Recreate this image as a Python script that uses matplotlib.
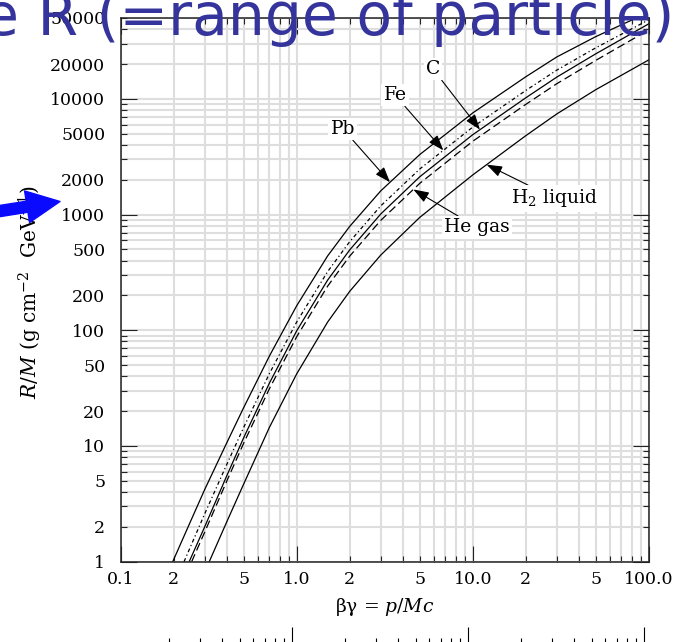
import matplotlib
matplotlib.use("Agg")
import matplotlib.pyplot as plt
import numpy as np
from matplotlib.ticker import FixedLocator, FixedFormatter, LogLocator, NullFormatter
from matplotlib.patches import FancyArrowPatch
from matplotlib.transforms import IdentityTransform

plt.rcParams['font.family'] = 'DejaVu Serif'
plt.rcParams['mathtext.fontset'] = 'dejavuserif'

# R/M (g cm^-2 GeV^-1) against beta*gamma for each absorber
bg_pb = [0.1975, 0.25, 0.3, 0.4, 0.5, 0.7, 1.0, 1.5, 2, 3, 5, 10, 20, 30, 50, 100]
rm_pb = [1.0, 2.25, 4.2, 10.6, 21.5, 60, 163, 440, 790, 1600, 3300, 7550, 15500, 23000, 34500, 56000]

bg_fe = [0.229, 0.3, 0.4, 0.5, 0.7, 1.0, 1.5, 2, 3, 5, 10, 20, 30, 50, 100]
rm_fe = [1.0, 2.59, 6.9, 14.5, 42.3, 118, 322, 583, 1187, 2475, 5700, 11800, 17700, 27600, 48200]

bg_c = [0.245, 0.3, 0.4, 0.5, 0.7, 1.0, 1.5, 2, 3, 5, 10, 20, 30, 50, 100]
rm_c = [1.0, 2.0, 5.5, 11.8, 35, 99, 272, 495, 1010, 2120, 4900, 10200, 15400, 24500, 44500]

bg_he = [0.253, 0.3, 0.4, 0.5, 0.7, 1.0, 1.5, 2, 3, 5, 10, 20, 30, 50, 100]
rm_he = [1.0, 1.8, 4.95, 10.6, 31.3, 88, 241, 437, 890, 1860, 4300, 8950, 13500, 21500, 39400]

bg_h2 = [0.3185, 0.4, 0.5, 0.7, 1.0, 1.5, 2, 3, 5, 10, 20, 30, 50, 100]
rm_h2 = [1.0, 2.2, 4.7, 14.5, 42, 118, 217, 446, 945, 2200, 4800, 7400, 12000, 21700]

MU_MASS = 0.10566  # GeV, muon momentum scale along the bottom

fig = plt.figure(figsize=(6.76, 6.42), dpi=100)
ax = fig.add_axes([0.17855, 0.12508, 0.78107, 0.84689])

ax.set_xscale('log')
ax.set_yscale('log')
ax.set_xlim(0.1, 100)
ax.set_ylim(1, 50000)

lw = 0.9
ax.plot(bg_pb, rm_pb, color='black', lw=lw)
ax.plot(bg_fe, rm_fe, color='black', lw=lw, dashes=(3, 2.2, 1, 2.2))
ax.plot(bg_c, rm_c, color='black', lw=lw)
ax.plot(bg_he, rm_he, color='black', lw=lw, dashes=(6.5, 3.3))
ax.plot(bg_h2, rm_h2, color='black', lw=lw)

# ticks: long at decades, short at 2..9, labels on 2 and 5 as well
x_minor = [k * 10.0 ** n for n in (-1, 0, 1) for k in range(2, 10)]
x_minor_lab = [str(k) if k in (2, 5) else '' for n in (-1, 0, 1) for k in range(2, 10)]
ax.xaxis.set_major_locator(FixedLocator([0.1, 1, 10, 100]))
ax.xaxis.set_major_formatter(FixedFormatter(['0.1', '1.0', '10.0', '100.0']))
ax.xaxis.set_minor_locator(FixedLocator(x_minor))
ax.xaxis.set_minor_formatter(FixedFormatter(x_minor_lab))

y_minor = [k * 10.0 ** n for n in range(0, 5) for k in range(2, 10) if k * 10.0 ** n <= 50000]
y_minor_lab = ['%d' % v if str(int(v))[0] in '25' else '' for v in y_minor]
ax.yaxis.set_major_locator(FixedLocator([1, 10, 100, 1000, 10000]))
ax.yaxis.set_major_formatter(FixedFormatter(['1', '10', '100', '1000', '10000']))
ax.yaxis.set_minor_locator(FixedLocator(y_minor))
ax.yaxis.set_minor_formatter(FixedFormatter(y_minor_lab))

ax.tick_params(which='both', direction='in', top=True, right=True,
               labelsize=12.5, width=0.8, color='#222222')
ax.tick_params(which='major', length=11.5)
ax.tick_params(which='minor', length=4.3)
ax.tick_params(axis='y', which='both', pad=11)
ax.tick_params(axis='x', which='both', pad=7)

ax.grid(which='both', color='#dedede', lw=1.5)
ax.set_axisbelow(True)
for s in ax.spines.values():
    s.set_color('#222222')
    s.set_linewidth(1.1)

ax.set_xlabel('βγ = $p/Mc$', fontsize=13.5)
ax.set_ylabel(r'$R/M$ (g cm$^{-2}$  GeV$^{-1}$)', fontsize=14.5)
ax.xaxis.set_label_coords(0.5, -0.064)
ax.yaxis.set_label_coords(-0.145, 0.496)

# curve labels with arrows
def on_curve(bg, rm, x):
    return 10 ** np.interp(np.log10(x), np.log10(bg), np.log10(rm))

labels = [
    ('Pb', bg_pb, rm_pb, 3.39, (1.83, 5500)),
    ('Fe', bg_fe, rm_fe, 6.81, (3.62, 10800)),
    ('C', bg_c, rm_c, 11.0, (5.95, 18100)),
    ('He gas', bg_he, rm_he, 4.6, (10.6, 775)),
    (r'H$_2$ liquid', bg_h2, rm_h2, 12.0, (29.3, 1380)),
]
for text, bg, rm, x_tip, xy_text in labels:
    ax.annotate(text, xy=(x_tip, on_curve(bg, rm, x_tip)), xytext=xy_text,
                ha='center', va='center', fontsize=13.5,
                bbox=dict(boxstyle='square,pad=0.12', fc='white', ec='none'),
                arrowprops=dict(arrowstyle='-|>,head_length=0.7,head_width=0.25',
                                color='black', lw=0.8, shrinkA=0, shrinkB=0))

# muon momentum scale below the plot
ax2 = fig.add_axes([0.17855, -1.5 / 642, 0.78107, 0.05])
ax2.set_xscale('log')
ax2.set_xlim(0.1 * MU_MASS, 100 * MU_MASS)
ax2.xaxis.set_major_locator(LogLocator(base=10))
ax2.xaxis.set_minor_locator(LogLocator(base=10, subs=range(2, 10)))
ax2.xaxis.set_minor_formatter(NullFormatter())
ax2.set_yticks([])
ax2.patch.set_visible(False)
for s in ('top', 'left', 'right'):
    ax2.spines[s].set_visible(False)
ax2.tick_params(axis='x', which='both', direction='in', labelbottom=False, width=0.8)
ax2.tick_params(axis='x', which='major', length=11.9)
ax2.tick_params(axis='x', which='minor', length=4.3)

# overlaid caption and pointer
fig.text(-0.025, 1 - 35 / 642, 'e R (=range of particle)', color='#34349c',
         fontsize=42, family='DejaVu Sans', ha='left', va='baseline')
arrow = FancyArrowPatch((-25, 642 - 215), (60, 642 - 201.5),
                        arrowstyle='simple,head_length=1.2,head_width=1.15,tail_width=0.4',
                        mutation_scale=20, color='#0a0aff', shrinkA=0, shrinkB=0,
                        transform=IdentityTransform())
fig.add_artist(arrow)

fig.savefig('out.png', dpi=100)
